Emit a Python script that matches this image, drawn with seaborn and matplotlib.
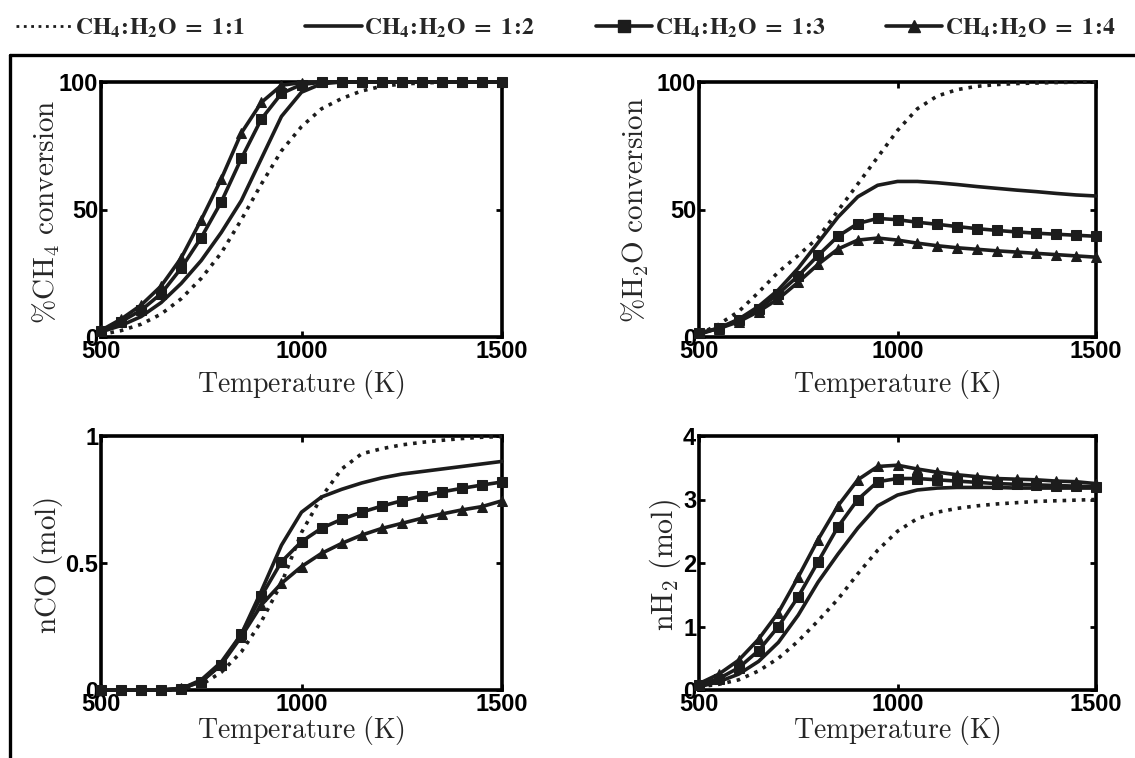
import matplotlib
matplotlib.use("Agg")
import matplotlib.pyplot as plt
import seaborn as sns
import pandas as pd
from matplotlib.lines import Line2D

# ---------------- data ----------------
temperature = [500, 550, 600, 650, 700, 750, 800, 850, 900, 950, 1000,
               1050, 1100, 1150, 1200, 1250, 1300, 1350, 1400, 1450, 1500]
ratios = ["1:1", "1:2", "1:3", "1:4"]

ch4_11 = [1, 2.5, 5, 9, 15, 23, 33, 46, 60, 73, 82.5, 89.5, 93.5, 96.5, 98.3, 99.2, 99.6, 99.9, 100, 100, 100]
ch4_12 = [2, 4.5, 8, 13.5, 21, 30, 41, 53.5, 70, 86.5, 96, 99.3, 100, 100, 100, 100, 100, 100, 100, 100, 100]
ch4_13 = [2.5, 6, 10.5, 17, 27, 39, 53, 70, 85.5, 95.5, 99, 99.9, 100, 100, 100, 100, 100, 100, 100, 100, 100]
ch4_14 = [2.6, 7, 12.5, 20, 31, 46, 62, 80, 92, 98.7, 99.8, 100, 100, 100, 100, 100, 100, 100, 100, 100, 100]

h2o_11 = [1, 5, 10, 17.5, 25.5, 32, 39, 49.5, 60, 70.5, 81, 89.5, 94.5, 97, 98.3, 99, 99.4, 99.6, 99.8, 99.9, 100]
h2o_12 = [1, 3.5, 7, 12, 18.5, 27, 37, 47, 55, 59.5, 61, 61, 60.5, 59.8, 59, 58.3, 57.6, 57, 56.3, 55.7, 55.3]
h2o_13 = [1.5, 3.5, 6.5, 11, 17, 24, 32, 39.5, 44.5, 46.5, 46, 45, 44.2, 43.3, 42.5, 41.8, 41.2, 40.7, 40.3, 39.9, 39.5]
h2o_14 = [1.5, 3.3, 6, 10, 15, 21.5, 28.5, 34.5, 38, 38.8, 38, 36.8, 35.8, 35, 34.4, 33.8, 33.3, 32.8, 32.3, 31.8, 31.3]

co_11 = [0, 0, 0, 0, 0, 0.02, 0.07, 0.15, 0.27, 0.42, 0.62, 0.76, 0.87, 0.93, 0.95, 0.965, 0.975, 0.983, 0.99, 0.995, 0.998]
co_12 = [0, 0, 0, 0, 0.005, 0.04, 0.11, 0.22, 0.39, 0.57, 0.70, 0.76, 0.79, 0.815, 0.835, 0.85, 0.86, 0.87, 0.88, 0.89, 0.90]
co_13 = [0, 0, 0, 0, 0.005, 0.033, 0.1, 0.22, 0.37, 0.505, 0.584, 0.637, 0.672, 0.70, 0.724, 0.745, 0.764, 0.78, 0.794, 0.807, 0.819]
co_14 = [0, 0, 0, 0, 0.007, 0.033, 0.1, 0.21, 0.335, 0.42, 0.486, 0.538, 0.577, 0.61, 0.636, 0.656, 0.676, 0.693, 0.709, 0.722, 0.745]

h2_11 = [0.05, 0.09, 0.16, 0.3, 0.5, 0.77, 1.09, 1.43, 1.83, 2.2, 2.5, 2.7, 2.8, 2.86, 2.9, 2.93, 2.95, 2.97, 2.98, 2.99, 3.0]
h2_12 = [0.05, 0.13, 0.25, 0.45, 0.75, 1.18, 1.7, 2.14, 2.55, 2.9, 3.07, 3.15, 3.18, 3.19, 3.19, 3.19, 3.18, 3.18, 3.18, 3.18, 3.18]
h2_13 = [0.08, 0.18, 0.35, 0.62, 1.0, 1.47, 2.02, 2.57, 3.0, 3.28, 3.33, 3.33, 3.31, 3.29, 3.27, 3.25, 3.24, 3.23, 3.22, 3.21, 3.2]
h2_14 = [0.1, 0.25, 0.47, 0.8, 1.22, 1.78, 2.37, 2.9, 3.31, 3.52, 3.54, 3.48, 3.43, 3.39, 3.36, 3.33, 3.32, 3.31, 3.29, 3.28, 3.25]

x_ticks = [500, 1000, 1500]
x_label = r"$\mathrm{Temperature\ (K)}$"

panels = [
    dict(series=[ch4_11, ch4_12, ch4_13, ch4_14], ylim=(0, 100), yticks=[0, 50, 100],
         yticklabels=["0", "50", "100"], ylabel=r"$\mathrm{\%CH_4\ conversion}$"),
    dict(series=[h2o_11, h2o_12, h2o_13, h2o_14], ylim=(0, 100), yticks=[0, 50, 100],
         yticklabels=["0", "50", "100"], ylabel=r"$\mathrm{\%H_2O\ conversion}$"),
    dict(series=[co_11, co_12, co_13, co_14], ylim=(0, 1), yticks=[0, 0.5, 1],
         yticklabels=["0", "0.5", "1"], ylabel=r"$\mathrm{nCO\ (mol)}$"),
    dict(series=[h2_11, h2_12, h2_13, h2_14], ylim=(0, 4), yticks=[0, 1, 2, 3, 4],
         yticklabels=["0", "1", "2", "3", "4"], ylabel=r"$\mathrm{nH_2\ (mol)}$"),
]

# ---------------- style ----------------
sns.set_style("ticks")
plt.rcParams["font.family"] = ["Liberation Sans", "DejaVu Sans"]
plt.rcParams["mathtext.fontset"] = "cm"

INK = "#1c1c1c"
styles = {
    "1:1": dict(linestyle=":", marker=None),
    "1:2": dict(linestyle="-", marker=None),
    "1:3": dict(linestyle="-", marker="s"),
    "1:4": dict(linestyle="-", marker="^"),
}

W, H = 1135, 758
fig = plt.figure(figsize=(W / 100, H / 100), dpi=100)

def frac_rect(l, t, r, b):
    return [l / W, 1 - b / H, (r - l) / W, (b - t) / H]

rects = [frac_rect(101, 82, 502, 337), frac_rect(699, 82, 1096, 337),
         frac_rect(101, 436, 502, 690), frac_rect(699, 436, 1096, 690)]

ylabel_pos = [(-0.137, 0.49, 21), (-0.161, 0.50, 21), (-0.13, 0.49, 21), (-0.086, 0.49, 21.5)]
xlabel_y = [-0.185, -0.185, -0.16, -0.16]

for i, (p, rect) in enumerate(zip(panels, rects)):
    ax = fig.add_axes(rect)
    for ratio, vals in zip(ratios, p["series"]):
        df = pd.DataFrame({"T": temperature, "v": vals})
        st = styles[ratio]
        sns.lineplot(data=df, x="T", y="v", ax=ax, color=INK, linewidth=2.6,
                     linestyle=st["linestyle"], marker=st["marker"],
                     markersize=7.5, markeredgecolor=INK, markerfacecolor=INK,
                     clip_on=False, zorder=3)
    ax.set_xlim(500, 1500)
    ax.set_ylim(*p["ylim"])
    ax.set_xticks(x_ticks)
    ax.set_xticklabels([str(t) for t in x_ticks])
    ax.set_yticks(p["yticks"])
    ax.set_yticklabels(p["yticklabels"])
    ax.tick_params(direction="in", length=4, width=2, top=True, right=True,
                   labelsize=17, pad=2, colors="black")
    for lab in ax.get_xticklabels() + ax.get_yticklabels():
        lab.set_fontweight("bold")
    for sp in ax.spines.values():
        sp.set_linewidth(2.6)
        sp.set_color("black")
    lx, ly, lsize = ylabel_pos[i]
    ax.set_ylabel(p["ylabel"], fontsize=lsize, va="center")
    ax.yaxis.set_label_coords(lx, ly)
    ax.set_xlabel(x_label, fontsize=20, va="center")
    ax.xaxis.set_label_coords(0.5, xlabel_y[i])
    if ax.get_legend() is not None:
        ax.get_legend().remove()

# ---------------- legend ----------------
handles = []
labels = []
for ratio in ratios:
    st = styles[ratio]
    handles.append(Line2D([], [], color=INK, linewidth=2.6 if st["linestyle"] == "-" else 2.0,
                          linestyle=st["linestyle"], marker=st["marker"], markersize=8))
    a, b = ratio.split(":")
    labels.append(r"$\mathbf{CH_4\!:\!H_2O\ =\ %s\!:\!%s}$" % (a, b))

leg = fig.legend(handles, labels, loc="lower left", ncol=4, mode="expand",
                 bbox_to_anchor=(0.006, 0.935, 0.985, 0.06), frameon=False,
                 handlelength=2.4, handletextpad=0.1, borderaxespad=0,
                 fontsize=17)
for t in leg.get_texts():
    t.set_math_fontfamily("stix")

# ---------------- outer frame ----------------
fig.add_artist(Line2D([10 / W, 1.0], [1 - 55 / H, 1 - 55 / H], transform=fig.transFigure,
                      color="black", linewidth=2.4))
fig.add_artist(Line2D([10 / W, 10 / W], [1 - 55 / H, 0.0], transform=fig.transFigure,
                      color="black", linewidth=2.4))

fig.savefig("out.png", dpi=100, facecolor="white")
